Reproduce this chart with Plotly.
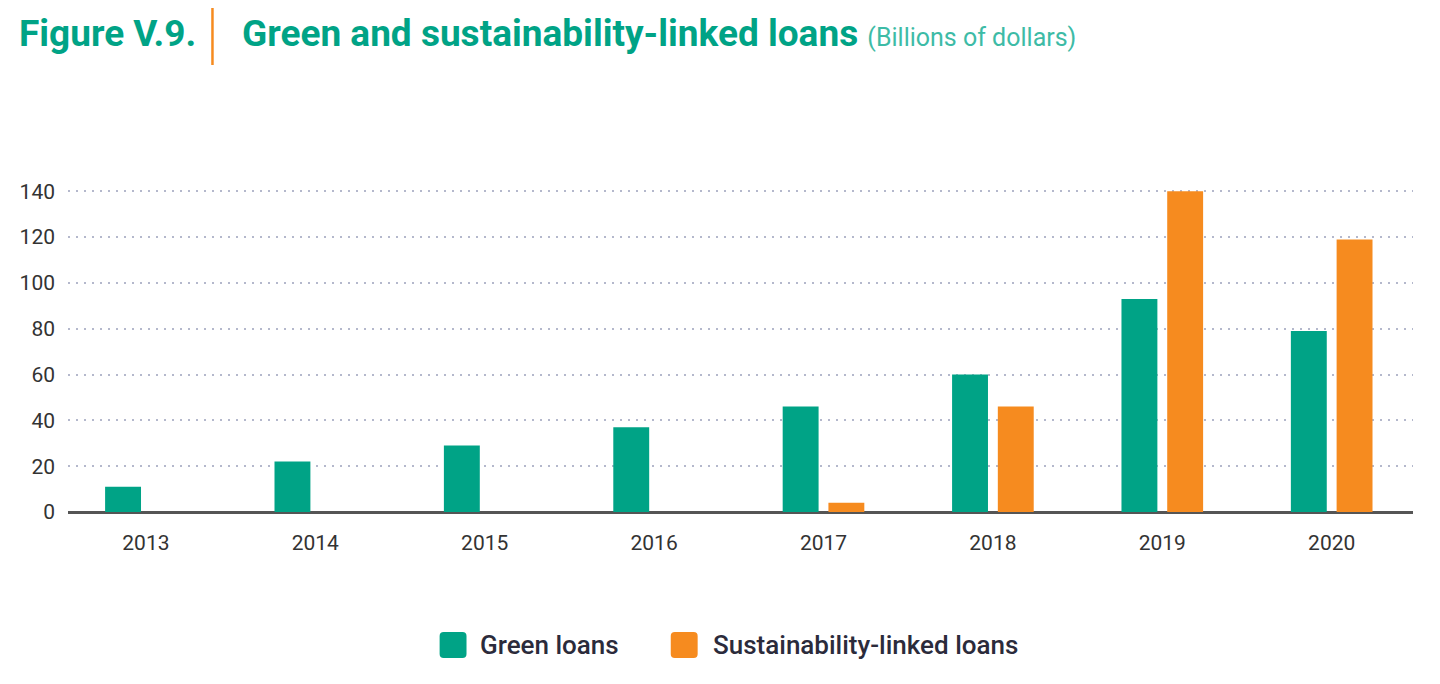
import plotly.graph_objects as go

years = ["2013", "2014", "2015", "2016", "2017", "2018", "2019", "2020"]
green_loans = [11, 22, 29, 37, 46, 60, 93, 79]
sustainability_linked = [None, None, None, None, 4, 46, 140, 119]
y_ticks = [0, 20, 40, 60, 80, 100, 120, 140]
series_names = ["Green loans", "Sustainability-linked loans"]

TEAL = "#00a386"
ORANGE = "#f68b1f"
FONT = "Roboto, Arial, sans-serif"

OFF = 8  # page body margin
W, H = 1440, 684
L, T = 63 - OFF, 189 - OFF
pw, ph = 1350, 323
R = W - L - pw
B = H - T - ph

def px(x):
    return (x - OFF - L) / pw

def py(y):
    return (T + ph - (y - OFF)) / ph

def rounded_rect(x0, y0, x1, y1, r):
    X0, X1, Xa, Xb = px(x0), px(x1), px(x0 + r), px(x1 - r)
    Y0, Y1, Ya, Yb = py(y0), py(y1), py(y0 + r), py(y1 - r)
    return (f"M {Xa},{Y0} L {Xb},{Y0} Q {X1},{Y0} {X1},{Ya} L {X1},{Yb} "
            f"Q {X1},{Y1} {Xb},{Y1} L {Xa},{Y1} Q {X0},{Y1} {X0},{Yb} "
            f"L {X0},{Ya} Q {X0},{Y0} {Xa},{Y0} Z")

fig = go.Figure()
fig.add_trace(go.Bar(x=years, y=green_loans, name=series_names[0],
                     marker=dict(color=TEAL, line=dict(width=0))))
fig.add_trace(go.Bar(x=years, y=sustainability_linked, name=series_names[1],
                     marker=dict(color=ORANGE, line=dict(width=0))))

legend_shapes = []
legend_annots = []
for sx, tx, col, name in [(436, 475, TEAL, series_names[0]), (668, 708, ORANGE, series_names[1])]:
    legend_shapes.append(dict(type="path", xref="paper", yref="paper",
                              path=rounded_rect(sx, 632, sx + 27, 658, 4),
                              fillcolor=col, line=dict(width=0)))
    legend_annots.append(dict(xref="paper", yref="paper", x=px(tx), y=py(645),
                              xanchor="left", yanchor="middle", text=name, showarrow=False,
                              font=dict(size=26, color="#2b2b3b", family=FONT, weight=500)))

fig.update_layout(
    width=W, height=H,
    margin=dict(l=L, r=R, t=T, b=B),
    paper_bgcolor="white", plot_bgcolor="white",
    barmode="group", bargap=0.46, bargroupgap=0.215,
    font=dict(family=FONT, color="#333333"),
    showlegend=False,
    xaxis=dict(type="category", range=[-0.46, 7.48], showgrid=False,
               showline=False, zeroline=False, ticks="",
               tickfont=dict(size=21, color="#333333"), ticklabelstandoff=16),
    yaxis=dict(range=[0, 141], tickvals=y_ticks, showgrid=True,
               gridcolor="#b4b8cc", griddash="2px,6px", gridwidth=2,
               zeroline=True, zerolinecolor="#555555", zerolinewidth=2.5,
               showline=False, ticks="",
               tickfont=dict(size=21, color="#333333"), ticklabelstandoff=12),
    annotations=[
        dict(xref="paper", yref="paper", x=px(12), y=py(33), xanchor="left", yanchor="middle",
             text="<b>Figure V.9.</b>", showarrow=False,
             font=dict(size=37, color=TEAL, family=FONT)),
        dict(xref="paper", yref="paper", x=px(236), y=py(33), xanchor="left", yanchor="middle",
             text="<b>Green and sustainability-linked loans</b> <span style='font-size:25px;color:#3dbba6'>(Billions of dollars)</span>",
             showarrow=False,
             font=dict(size=37, color=TEAL, family=FONT)),
    ] + legend_annots,
    shapes=[
        dict(type="line", xref="paper", yref="paper", x0=px(208), x1=px(208),
             y0=py(3), y1=py(65), line=dict(color=ORANGE, width=2.5)),
    ] + legend_shapes,
)

fig.write_html("out.html")
